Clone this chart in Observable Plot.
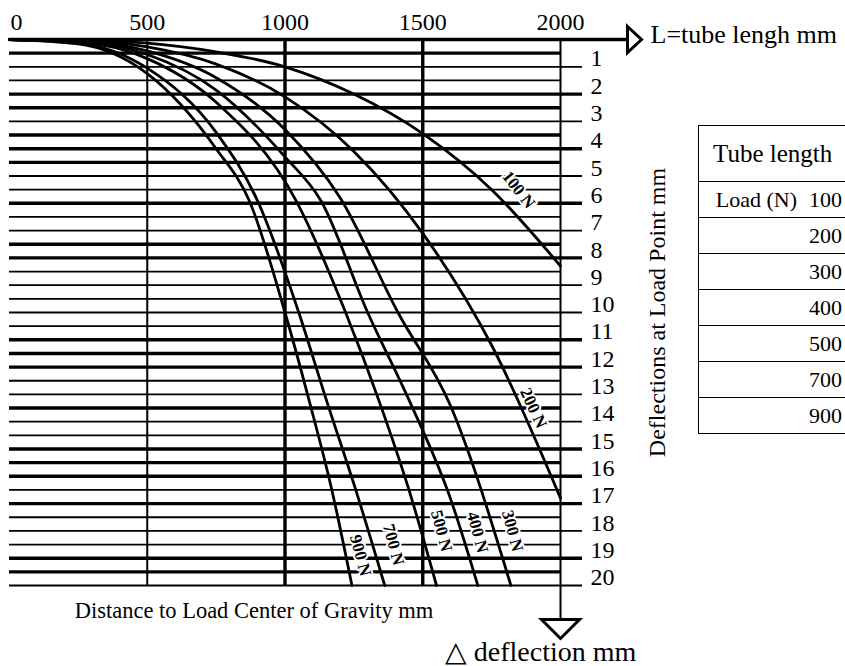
<!DOCTYPE html>
<html>
<head>
<meta charset="utf-8">
<script src="https://cdn.jsdelivr.net/npm/d3@7"></script>
<script src="https://cdn.jsdelivr.net/npm/@observablehq/plot@0.6"></script>
<style>
  html, body { margin: 0; padding: 0; background: #fff; }
  body { width: 845px; height: 666px; overflow: hidden; position: relative; font-family: "Liberation Serif", "Times New Roman", serif; }
  #chart { position: absolute; left: 0; top: 0; }
  #tbl { position: absolute; left: 698px; top: 125px; }
  #tbl table { border-collapse: collapse; font-family: "Liberation Serif", serif; font-size: 22px; color: #000; width: 156px; }
  #tbl td { border: 1.5px solid #000; height: 35px; padding: 0 11px 0 0; text-align: right; white-space: nowrap; }
  #tbl th { border: 1.5px solid #000; height: 55px; padding: 0 0 0 14px; text-align: left; font-weight: normal; white-space: nowrap; font-size: 25px; }
</style>
</head>
<body>
<div id="chart"></div>
<div id="tbl"></div>
<script>
// ---- tick labels ----
const xTicks = [0, 500, 1000, 1500, 2000];
const yTicks = [1, 2, 3, 4, 5, 6, 7, 8, 9, 10, 11, 12, 13, 14, 15, 16, 17, 18, 19, 20];

// ---- curves: tube length L (mm) vs deflection (mm), one pair per load ----
const loads = [100, 200, 300, 400, 500, 700, 900];
const L_100 = [0, 250, 500, 750, 1000, 1250, 1500, 1750, 2000];
const D_100 = [0, 0.02, 0.13, 0.45, 1.0, 2.0, 3.45, 5.5, 8.3];
const L_200 = [0, 250, 500, 750, 1000, 1250, 1500, 1750, 2000];
const D_200 = [0, 0.03, 0.27, 0.9, 2.1, 4.1, 7.1, 11.2, 16.8];
const L_300 = [0, 250, 500, 750, 1000, 1200, 1410, 1600, 1820];
const D_300 = [0, 0.05, 0.42, 1.4, 3.3, 5.8, 10.0, 13.4, 20];
const L_400 = [0, 250, 500, 750, 1000, 1130, 1300, 1450, 1600, 1700];
const D_400 = [0, 0.07, 0.55, 1.85, 4.3, 5.9, 10.0, 13.2, 16.8, 20];
const L_500 = [0, 250, 500, 750, 1040, 1220, 1340, 1450, 1550];
const D_500 = [0, 0.09, 0.7, 2.3, 5.9, 10.0, 13.2, 16.5, 20];
const L_700 = [0, 250, 500, 750, 900, 1050, 1150, 1260, 1362];
const D_700 = [0, 0.13, 1.05, 3.4, 5.9, 10.0, 13.2, 16.6, 20];
const L_900 = [0, 250, 500, 750, 870, 1000, 1087, 1170, 1243];
const D_900 = [0, 0.16, 1.25, 4.0, 5.9, 10.0, 13.2, 16.5, 20];

// ---- curve labels (annotation anchor in data units) ----
const labelText = ["100\u00a0N", "200\u00a0N", "300\u00a0N", "400\u00a0N", "500\u00a0N", "700\u00a0N", "900\u00a0N"];
const labelL = [1848, 1902, 1826, 1699, 1568, 1394, 1274];
const labelD = [5.5, 13.5, 18.0, 18.05, 18.0, 18.5, 18.9];

// ---- table ----
const tableHeader = "Tube length";
const tableRowLabel = "Load (N)";

// ---- text ----
const xTitle = "L=tube lengh mm";
const yTitle = "Deflections at Load Point mm";
const bottomTitle = "Distance to Load Center of Gravity mm";
const deflTitle = "\u25b3 deflection mm";

// ---------------------------------------------------------------
const series = [L_100, L_200, L_300, L_400, L_500, L_700, L_900];
const depths = [D_100, D_200, D_300, D_400, D_500, D_700, D_900];
const curveData = loads.flatMap((load, i) => series[i].map((l, j) => ({load, L: l, d: depths[i][j]})));
const labels = labelText.map((t, i) => ({t, L: labelL[i], d: labelD[i]}));

const xs = Plot.scale({x: {domain: [0, 2000], range: [9, 560]}});
const ys = Plot.scale({y: {domain: [0, 20], range: [39, 585]}});

const heavy = new Set([0.5, 2, 2.5, 3.5, 4, 4.5, 6, 7.5, 8, 11, 11.5, 12, 13.5, 15, 15.5, 16, 17, 19, 19.5]);
const grid = d3.range(1, 41).map(k => k / 2);
const tickEnd = xs.invert(582);

const rightTri = {draw(ctx) { ctx.moveTo(0, -13); ctx.lineTo(14, 0); ctx.lineTo(0, 13); ctx.closePath(); }};
const downTri = {draw(ctx) { ctx.moveTo(-19, 0); ctx.lineTo(19, 0); ctx.lineTo(0, 19); ctx.closePath(); }};

const font = "Liberation Serif";
const labelStyle = {fontSize: 17, fontWeight: "bold", stroke: "white", strokeWidth: 4, fill: "black"};

const chart = Plot.plot({
  width: 845,
  height: 666,
  marginLeft: 9,
  marginRight: 285,
  marginTop: 39,
  marginBottom: 81,
  x: {domain: [0, 2000], range: [9, 560], axis: null},
  y: {domain: [0, 20], range: [39, 585], axis: null},
  style: {fontFamily: font, background: "white", color: "black", overflow: "visible"},
  marks: [
    // horizontal grid lines (every 0.5 mm), integer lines extend as ticks
    Plot.ruleY(grid.filter(v => !heavy.has(v)), {y: v => v, x1: 0, x2: v => (v % 1 === 0 ? tickEnd : 2000), stroke: "black", strokeWidth: 1.8}),
    Plot.ruleY(grid.filter(v => heavy.has(v)), {y: v => v, x1: 0, x2: v => (v % 1 === 0 ? tickEnd : 2000), stroke: "black", strokeWidth: 3.4}),
    // top axis line (arrow)
    Plot.ruleY([0], {x1: 0, x2: xs.invert(627), stroke: "black", strokeWidth: 3.4}),
    // vertical lines
    Plot.ruleX([500], {y1: 0, y2: 20, stroke: "black", strokeWidth: 2}),
    Plot.ruleX([1000, 1500], {y1: 0, y2: 20, stroke: "black", strokeWidth: 3.4}),
    Plot.ruleX([2000], {y1: 0, y2: ys.invert(619), stroke: "black", strokeWidth: 2}),
    // curves
    Plot.line(curveData, {x: "L", y: "d", z: "load", stroke: "black", strokeWidth: 2.8, curve: "monotone-x"}),
    // curve labels
    Plot.text(labels, {x: "L", y: "d", text: "t", rotate: 52, filter: (d, i) => i === 0, ...labelStyle}),
    Plot.text(labels, {x: "L", y: "d", text: "t", rotate: 65, filter: (d, i) => i === 1, ...labelStyle}),
    Plot.text(labels, {x: "L", y: "d", text: "t", rotate: 75, filter: (d, i) => i > 1, ...labelStyle}),
    // arrows
    Plot.dot([xTitle], {x: () => 2000, y: () => 0, dx: 67, symbol: rightTri, r: 4, stroke: "black", fill: "white", strokeWidth: 3}),
    Plot.dot([deflTitle], {x: () => 2000, y: () => 20, dy: 34, symbol: downTri, r: 4, stroke: "black", fill: "white", strokeWidth: 3}),
    // top tick labels
    Plot.text([xTicks[0]], {x: d => d, y: () => 0, text: d => String(d), dy: -17, dx: 1, textAnchor: "start", fontSize: 24}),
    Plot.text(xTicks.slice(1), {x: d => d, y: () => 0, text: d => String(d), dy: -17, fontSize: 24}),
    // right tick labels
    Plot.text(yTicks, {x: () => 2000, y: d => d, text: d => String(d), dx: 30, dy: -8, textAnchor: "start", fontSize: 24}),
    // titles
    Plot.text([xTitle], {x: () => 2000, y: () => 0, dx: 90, dy: -5, textAnchor: "start", fontSize: 26}),
    Plot.text([yTitle], {x: () => 2000, y: () => 10, dx: 97, rotate: -90, fontSize: 24}),
    Plot.text([bottomTitle], {x: () => 1000, y: () => 20, dx: -31, dy: 25, fontSize: 22.5}),
    Plot.text([deflTitle], {x: () => 2000, y: () => 20, dx: -20, dy: 67, fontSize: 28})
  ]
});
document.getElementById("chart").appendChild(chart);

// table (only its first column is inside the window, as in the reference)
const tbl = d3.select("#tbl").append("table");
tbl.append("tr").append("th").text(tableHeader);
loads.forEach((load, i) => {
  const td = tbl.append("tr").append("td");
  if (i === 0) td.append("span").style("margin-right", "12px").text(tableRowLabel);
  td.append("span").text(load);
});
</script>
</body>
</html>
